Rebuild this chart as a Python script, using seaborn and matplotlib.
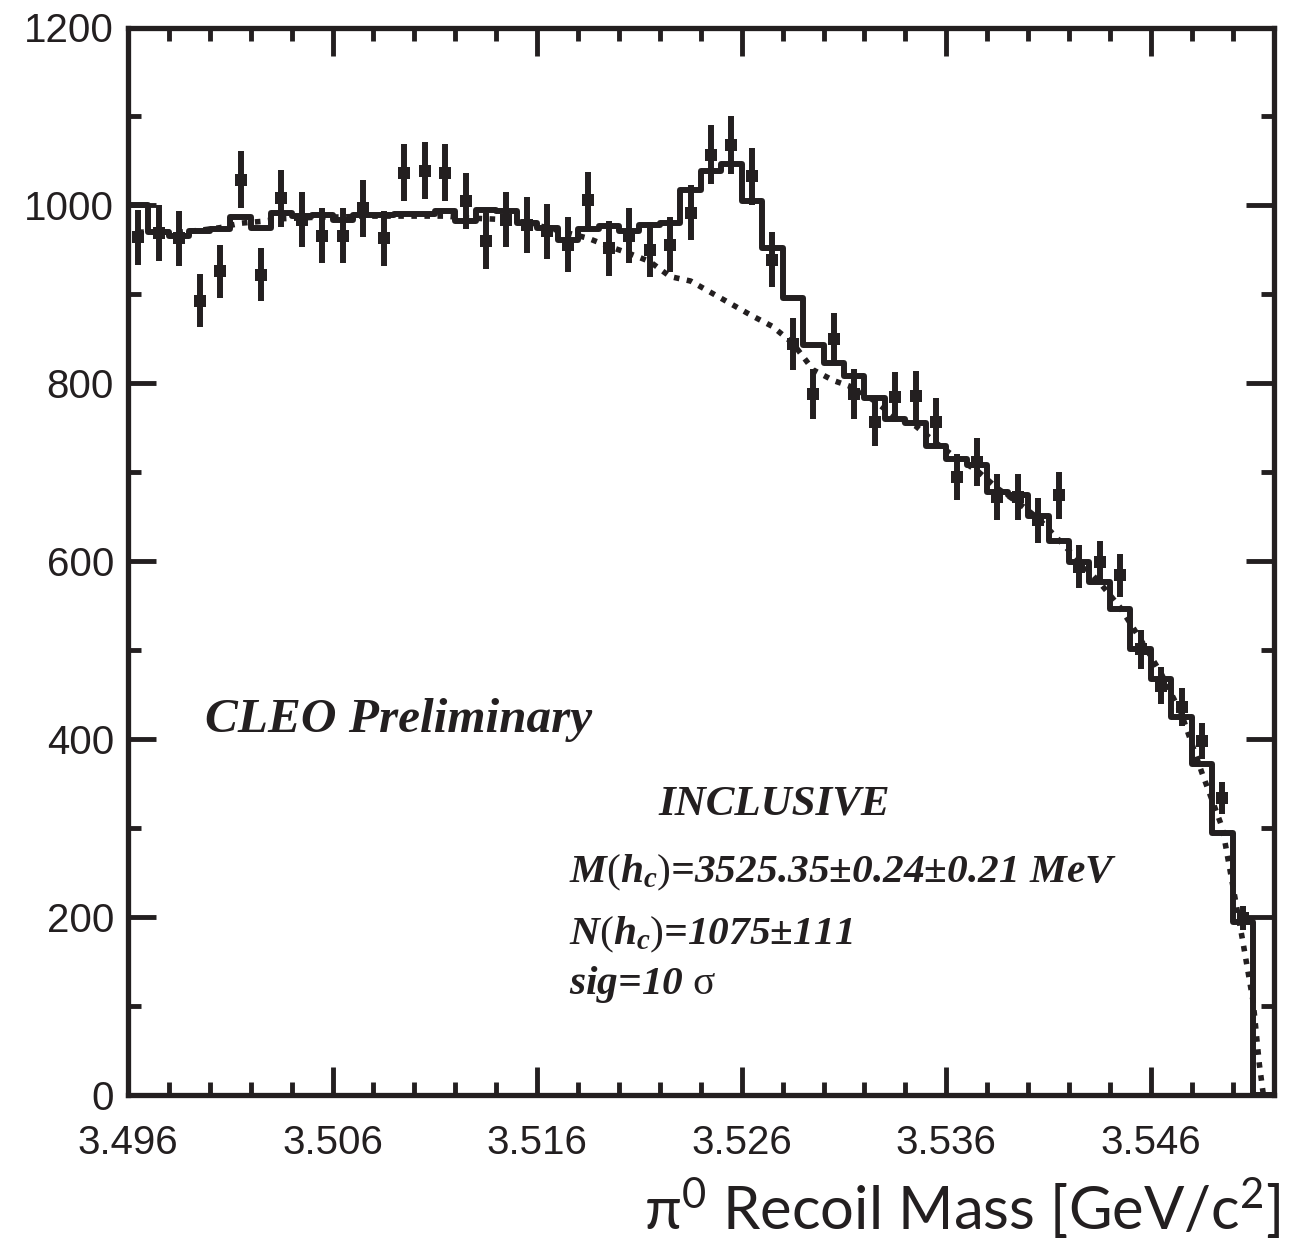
import numpy as np
import pandas as pd
import matplotlib
matplotlib.use("Agg")
import matplotlib.pyplot as plt
from matplotlib.ticker import MultipleLocator, FixedLocator
import seaborn as sns

# Binning: 56 bins of 1 MeV between 3.496 and 3.552 GeV
bin_edges = np.round(np.arange(3.496, 3.5525, 0.001), 4)
bin_centers = np.round(bin_edges[:-1] + 0.0005, 4)

x_major = [3.496, 3.506, 3.516, 3.526, 3.536, 3.546]
x_labels = ["3.496", "3.506", "3.516", "3.526", "3.536", "3.546"]

# Data points (first 55 bins)
counts = [964, 969, 963, 893, 926, 1029, 922, 1008, 984, 966,
          966, 997, 963, 1037, 1039, 1037, 1005, 960, 984, 978,
          971, 956, 1006, 952, 966, 950, 956, 992, 1057, 1068,
          1033, 939, 844, 788, 850, 788, 756, 785, 786, 757,
          695, 712, 672, 672, 646, 674, 594, 599, 584, 501,
          460, 436, 398, 334, 199]
errors = [31, 31, 31, 30, 30, 32, 30, 32, 31, 31,
          31, 32, 31, 32, 32, 32, 32, 31, 31, 31,
          31, 31, 32, 31, 31, 31, 31, 31, 33, 33,
          32, 31, 29, 28, 29, 28, 27, 28, 28, 27,
          26, 27, 26, 26, 25, 26, 24, 24, 24, 22,
          21, 21, 20, 18, 14]

# Total fit (signal + background), one value per bin
fit_total = [1000, 970, 966, 971, 973, 987, 975, 992, 988, 989,
             984, 989, 989, 990, 990, 994, 982, 995, 994, 980,
             975, 961, 973, 977, 971, 978, 980, 1017, 1039, 1046,
             1005, 952, 896, 843, 823, 808, 783, 760, 755, 730,
             715, 708, 678, 674, 651, 623, 599, 577, 546, 501,
             468, 425, 372, 295, 195, 0]

# Background only (dotted curve)
bkg_x = list(bin_centers[:55]) + [3.5510, 3.5513, 3.5515]
bkg_y = [970, 970, 970, 972, 975, 980, 982, 985, 986, 987,
         987, 988, 988, 988, 988, 988, 986, 985, 984, 980,
         975, 969, 963, 954, 946, 937, 920, 915, 902, 889,
         876, 864, 845, 815, 803, 795, 780, 762, 752, 733,
         716, 702, 682, 666, 648, 624, 600, 576, 548, 512,
         474, 428, 362, 300, 172, 105, 35, 0]

pts = pd.DataFrame({"mass": bin_centers[:55], "n": counts, "err": errors})
fit = pd.DataFrame({"mass": bin_centers, "n": fit_total})
bkg = pd.DataFrame({"mass": bkg_x, "n": bkg_y})

ink = "#231f20"

sns.set_style("ticks")
plt.rcParams["font.family"] = ["Liberation Sans", "DejaVu Sans"]
plt.rcParams["mathtext.fontset"] = "custom"
plt.rcParams["mathtext.it"] = "Liberation Serif:bold:italic"
plt.rcParams["mathtext.rm"] = "Liberation Serif"

fig = plt.figure(figsize=(12.93, 12.5), dpi=100)
ax = fig.add_axes([0.099, 0.124, 0.886, 0.854])

# background curve
sns.lineplot(data=bkg, x="mass", y="n", ax=ax, color=ink, lw=4.0,
             linestyle=(0, (1.0, 1.35)), sort=False, zorder=2)

# fit histogram
sns.histplot(data=fit, x="mass", weights="n", binwidth=0.001,
             binrange=(3.496, 3.552), element="step",
             fill=False, color=ink, lw=4.3, ax=ax, zorder=3)

# data points with error bars
ax.errorbar(pts["mass"], pts["n"], yerr=pts["err"], fmt="none",
            ecolor=ink, elinewidth=4.3, capsize=0, zorder=4)
sns.scatterplot(data=pts, x="mass", y="n", ax=ax, marker="s", s=85,
                color=ink, edgecolor=ink, linewidth=0, zorder=5)

ax.set_xlim(3.496, 3.552)
ax.set_ylim(0, 1200)
ax.set_xticks(x_major)
ax.set_xticklabels(x_labels)
ax.xaxis.set_minor_locator(FixedLocator(np.arange(3.496, 3.5521, 0.002)))
ax.yaxis.set_major_locator(MultipleLocator(200))
ax.yaxis.set_minor_locator(MultipleLocator(100))
ax.tick_params(which="both", direction="in", top=True, right=True,
               width=3.5, color=ink, labelsize=29, labelcolor=ink)
ax.tick_params(which="major", length=20)
ax.tick_params(which="minor", length=9.5)
ax.tick_params(axis="x", pad=21)
ax.tick_params(axis="y", pad=10)
for sp in ax.spines.values():
    sp.set_linewidth(3.8)
    sp.set_color(ink)
ax.set_xlabel("")
ax.set_ylabel("")

serif = dict(family="Liberation Serif", weight="bold", style="italic", color=ink)
ax.text(3.49976, 421, "CLEO Preliminary", fontsize=35.5, ha="left", va="center", **serif)
ax.text(3.52195, 327, "INCLUSIVE", fontsize=31, ha="left", va="center", **serif)
ax.text(3.51756, 250, "$M(h_c)$=3525.35±0.24±0.21 MeV", fontsize=29.8,
        ha="left", va="center", **serif)
ax.text(3.51756, 180, "$N(h_c)$=1075±111", fontsize=29.8, ha="left", va="center", **serif)
ax.text(3.51756, 124, r"sig=10 $\mathrm{σ}$", fontsize=29.8, ha="left", va="center", **serif)

fig.text(0.99, 0.006, r"π$\mathregular{^0}$ Recoil Mass [GeV/c$\mathregular{^2}$]",
         fontsize=43, ha="right", va="bottom", family=["Lato", "DejaVu Sans"],
         color=ink)

fig.savefig("out.png", dpi=100)
